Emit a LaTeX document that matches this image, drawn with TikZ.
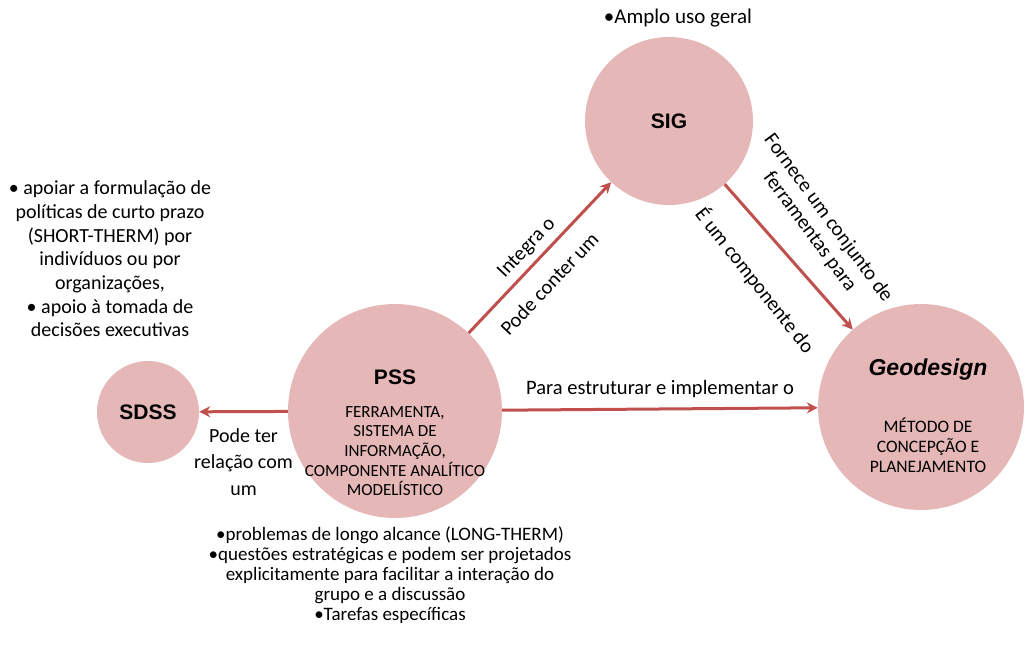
\documentclass[tikz,border=0pt]{standalone}
\usepackage{fontspec}
\setmainfont{Carlito}
\newfontfamily\arialfont{Liberation Sans}
\usetikzlibrary{arrows.meta}
\definecolor{rosa}{RGB}{229,184,183}
\definecolor{vermelho}{RGB}{192,80,77}
\begin{document}
\begin{tikzpicture}[x=1pt,y=-1pt,line join=round,>={Stealth[length=11pt,width=11pt]},
	bola/.style={circle,fill=rosa,inner sep=0pt},
	titulo/.style={font=\arialfont\bfseries\fontsize{21}{24}\selectfont},
	miolo/.style={font=\fontsize{17}{19.6}\selectfont,align=center},
	rotulo/.style={font=\fontsize{20.5}{23}\selectfont,align=center,inner sep=0pt},
	seta/.style={->,draw=vermelho,line width=3pt}]
	\useasboundingbox (0,0) rectangle (1026,649);
	% circulos
	\node[bola,minimum size=214pt] (pss) at (395,411) {};
	\node[bola,minimum size=168pt] (sig) at (669,121) {};
	\node[bola,minimum size=206pt] (geo) at (921,407) {};
	\node[bola,minimum size=102pt] (sdss) at (148,412) {};
	\node[titulo] (tpss) at (395,377) {PSS};
	\node[miolo] (mpss) at (395,451) {FERRAMENTA,\\SISTEMA DE\\INFORMAÇÃO,\\COMPONENTE ANALÍTICO\\MODELÍSTICO};
	\node[titulo] (tsig) at (sig) {SIG};
	\node[titulo,font=\arialfont\bfseries\itshape\fontsize{23}{26}\selectfont] (tgeo) at (928,370) {Geodesign};
	\node[miolo,font=\fontsize{17.5}{20}\selectfont] (mgeo) at (928,445) {MÉTODO DE\\CONCEPÇÃO E\\PLANEJAMENTO};
	\node[titulo] (tsdss) at (sdss) {SDSS};
	% setas
	\draw[seta] (pss) -- (sig)
		node[rotulo,sloped,above=6pt,pos=0.49] (integra) {Integra o}
		node[rotulo,sloped,below=16pt,pos=0.44] (conter) {Pode conter um};
	\draw[seta] (sig) -- (geo)
		node[rotulo,sloped,above=22pt,pos=0.47,rotate=-5] (fornece) {Fornece um conjunto de\\ferramentas para}
		node[rotulo,sloped,below=29pt,pos=0.48,rotate=-3] (componente) {É um componente do};
	\draw[seta] (pss) -- (geo) node[rotulo,above=10pt,pos=0.5] (estruturar) {Para estruturar e implementar o};
	\draw[seta] (pss) -- (sdss) node[rotulo,below=15pt,pos=0.5,font=\fontsize{20}{26.5}\selectfont] (relacao) {Pode ter\\relação com\\um};
	% textos soltos
	\node[rotulo,font=\fontsize{21}{24}\selectfont] (amplo) at (678,18) {•Amplo uso geral};
	\node[rotulo,font=\fontsize{20}{23.7}\selectfont] (curto) at (110,259) {• apoiar a formulação de\\políticas de curto prazo\\(SHORT-THERM) por\\indivíduos ou por\\organizações,\\• apoio à tomada de\\decisões executivas};
	\node[rotulo,font=\fontsize{19}{20}\selectfont] (longo) at (390,575) {•problemas de longo alcance (LONG-THERM)\\•questões estratégicas e podem ser projetados\\explicitamente para facilitar a interação do\\grupo e a discussão\\•Tarefas específicas};
\end{tikzpicture}
\end{document}
